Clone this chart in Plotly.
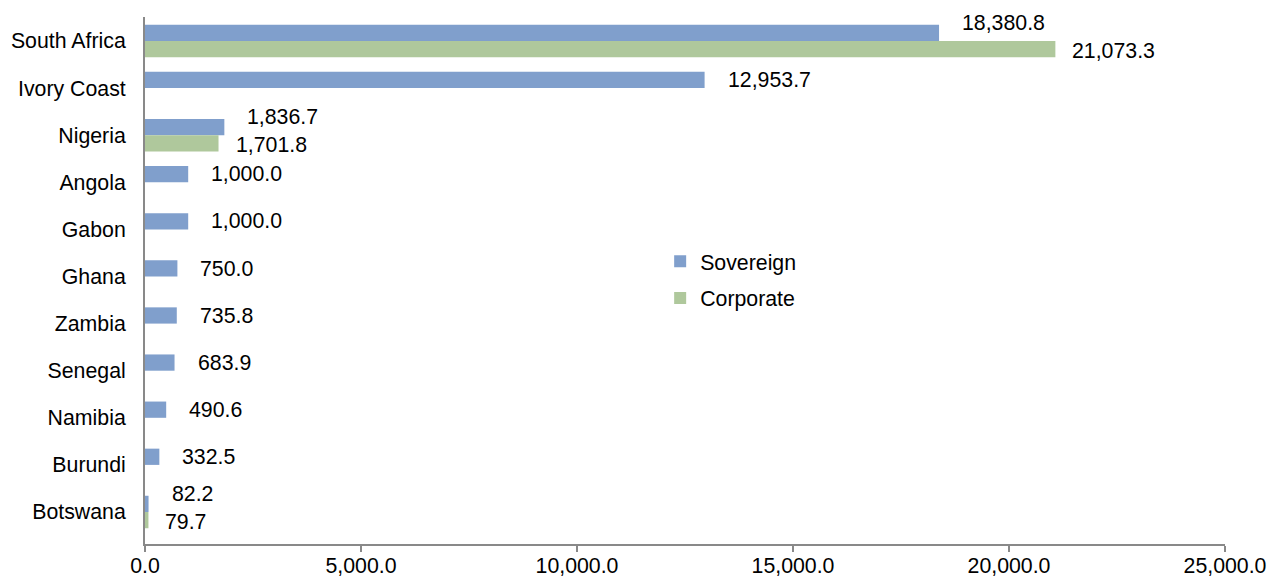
import plotly.graph_objects as go

countries = ["South Africa", "Ivory Coast", "Nigeria", "Angola", "Gabon", "Ghana",
             "Zambia", "Senegal", "Namibia", "Burundi", "Botswana"]
sovereign = [18380.8, 12953.7, 1836.7, 1000.0, 1000.0, 750.0, 735.8, 683.9, 490.6, 332.5, 82.2]
corporate = [21073.3, None, 1701.8, None, None, None, None, None, None, None, 79.7]
x_ticks = [0, 5000, 10000, 15000, 20000, 25000]

BLUE = "#809FCC"
GREEN = "#AFC89C"
AXIS = "#898989"
FONT = "Liberation Sans, Arial, sans-serif"
FS = 21.3

fig = go.Figure()
fig.add_trace(go.Bar(y=countries, x=sovereign, orientation="h", name="Sovereign",
                     marker=dict(color=BLUE, line=dict(width=0)), legendgroup="a"))
fig.add_trace(go.Bar(y=countries, x=corporate, orientation="h", name="Corporate",
                     marker=dict(color=GREEN, line=dict(width=0)), legendgroup="b"))

annotations = []
for c, s, k in zip(countries, sovereign, corporate):
    paired = k is not None
    annotations.append(dict(x=s, y=c, xref="x", yref="y", text=f"{s:,.1f}",
                            showarrow=False, xanchor="left", yanchor="middle",
                            xshift=21, yshift=18 if paired else 8,
                            font=dict(size=FS, color="#000", family=FONT)))
    if paired:
        annotations.append(dict(x=k, y=c, xref="x", yref="y", text=f"{k:,.1f}",
                                showarrow=False, xanchor="left", yanchor="middle",
                                xshift=15, yshift=-10,
                                font=dict(size=FS, color="#000", family=FONT)))

fig.update_layout(
    width=1269, height=581,
    margin=dict(l=145, r=44, t=17, b=37),
    paper_bgcolor="white", plot_bgcolor="white",
    barmode="group", bargap=0.31, bargroupgap=0,
    font=dict(family=FONT, size=FS, color="#000"),
    showlegend=True,
    legend=dict(x=0.477, y=0.575, xanchor="left", yanchor="top",
                font=dict(size=FS, color="#000", family=FONT),
                bgcolor="rgba(0,0,0,0)", tracegroupgap=6, traceorder="grouped"),
    annotations=annotations,
)
fig.update_xaxes(range=[0, 25000], tickvals=x_ticks,
                 ticktext=[f"{v:,.1f}" for v in x_ticks], automargin=False,
                 showgrid=False, zeroline=False, showline=True, linecolor=AXIS, linewidth=2,
                 ticks="outside", ticklen=6, tickwidth=2, tickcolor=AXIS,
                 ticklabelstandoff=-5,
                 tickfont=dict(size=FS, color="#000", family=FONT))
fig.update_yaxes(autorange="reversed", showgrid=False, showline=True, linecolor=AXIS,
                 linewidth=2, ticks="", ticklabelstandoff=13, automargin=False,
                 tickfont=dict(size=FS, color="#000", family=FONT))

fig.write_html("out.html")
